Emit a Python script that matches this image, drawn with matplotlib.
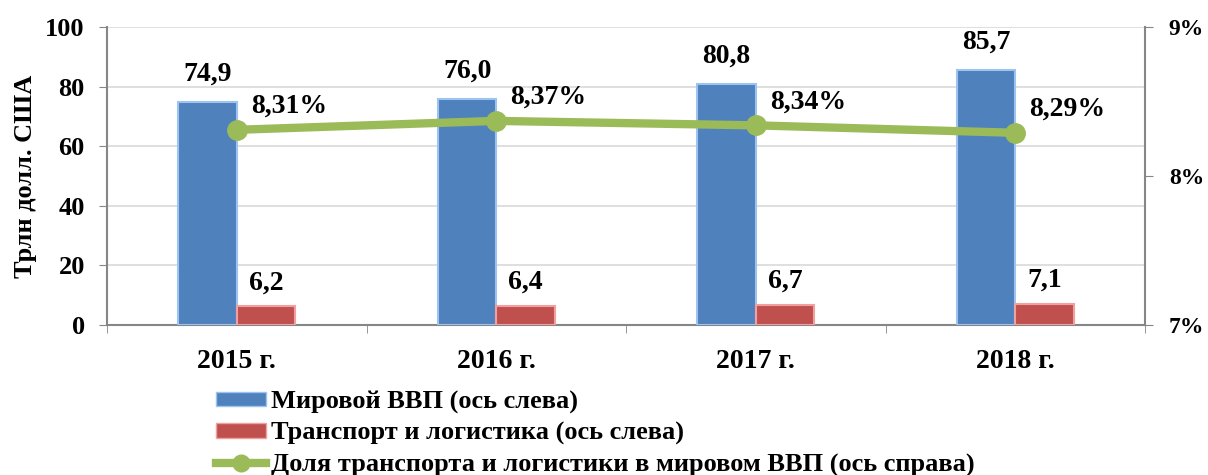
import numpy as np
import matplotlib.pyplot as plt
from matplotlib.lines import Line2D
from matplotlib.patches import Patch

years = ["2015 г.", "2016 г.", "2017 г.", "2018 г."]
world_gdp = [74.9, 76.0, 80.8, 85.7]
transport = [6.2, 6.4, 6.7, 7.1]
share = [8.31, 8.37, 8.34, 8.29]

gdp_labels = ["74,9", "76,0", "80,8", "85,7"]
tr_labels = ["6,2", "6,4", "6,7", "7,1"]
share_labels = ["8,31%", "8,37%", "8,34%", "8,29%"]

blue = "#4F81BD"
red = "#C0504D"
green = "#9BBB59"
font = "Liberation Serif"

plt.rcParams["font.family"] = font
plt.rcParams["font.weight"] = "bold"

fig = plt.figure(figsize=(12.08, 4.75), dpi=100)
ax = fig.add_axes([0.0886, 0.316, 0.8594, 0.627])

x = np.arange(len(years))
w = 0.225
ax.bar(x - w / 2, world_gdp, w, color=blue, edgecolor="#9DC3F0", linewidth=1.5, zorder=3)
ax.bar(x + w / 2, transport, w, color=red, edgecolor="#F0A0A0", linewidth=1.5, zorder=3)

for xi, v, lab in zip(x, world_gdp, gdp_labels):
    ax.annotate(lab, (xi - w / 2, v), xytext=(0, 11), textcoords="offset points",
                ha="center", va="bottom", fontsize=20, fontweight="bold")
for xi, v, lab in zip(x, transport, tr_labels):
    ax.annotate(lab, (xi + w / 2, v), xytext=(0, 8), textcoords="offset points",
                ha="center", va="bottom", fontsize=20, fontweight="bold")

ax.set_xlim(-0.5, len(years) - 0.5)
ax.set_ylim(0, 100)
ax.set_yticks([0, 20, 40, 60, 80, 100])
ax.set_xticks(x)
ax.set_xticklabels(years, fontsize=20, fontweight="bold")
ax.set_xticks(np.arange(-0.5, len(years)), minor=True)
ax.tick_params(axis="x", which="major", length=0, pad=17)
ax.tick_params(axis="x", which="minor", length=6, color="#868686", direction="out")
ax.tick_params(axis="y", labelsize=19, length=6, color="#868686", pad=10)
ax.grid(axis="y", color="#D9D9D9", linewidth=1.2, zorder=0)
for s in ["top", "right"]:
    ax.spines[s].set_visible(False)
ax.spines["left"].set_color("#868686")
ax.spines["bottom"].set_color("#868686")
ax.spines["left"].set_linewidth(1.5)
ax.spines["bottom"].set_linewidth(1.5)
ax.set_ylabel("Трлн долл. США", fontsize=19, fontweight="bold", labelpad=6)

ax2 = ax.twinx()
ax2.plot(x, share, color=green, linewidth=6, marker="o", markersize=14, zorder=5)
for xi, v, lab in zip(x, share, share_labels):
    ax2.annotate(lab, (xi, v), xytext=(10, 8), textcoords="offset points",
                 ha="left", va="bottom", fontsize=20, fontweight="bold")
ax2.set_ylim(7, 9)
ax2.set_yticks([7, 8, 9])
ax2.set_yticklabels(["7%", "8%", "9%"])
ax2.tick_params(axis="y", labelsize=17, length=6, color="#868686", pad=11)
for s in ["top", "left", "bottom"]:
    ax2.spines[s].set_visible(False)
ax2.spines["right"].set_color("#868686")
ax2.spines["right"].set_linewidth(1.5)

handles = [
    Patch(facecolor=blue, edgecolor="#9DC3F0"),
    Patch(facecolor=red, edgecolor="#F0A0A0"),
    Line2D([0], [0], color=green, linewidth=6, marker="o", markersize=12),
]
names = [
    "Мировой ВВП (ось слева)",
    "Транспорт и логистика (ось слева)",
    "Доля транспорта и логистики в мировом ВВП (ось справа)",
]
fig.legend(handles, names, loc="upper left", bbox_to_anchor=(0.170, 0.2),
           frameon=False, handlelength=1.9, handleheight=0.45,
           handletextpad=0.2, labelspacing=0.3, borderaxespad=0,
           prop={"family": font, "weight": "bold", "size": 19})

fig.savefig("out.png", dpi=100)
